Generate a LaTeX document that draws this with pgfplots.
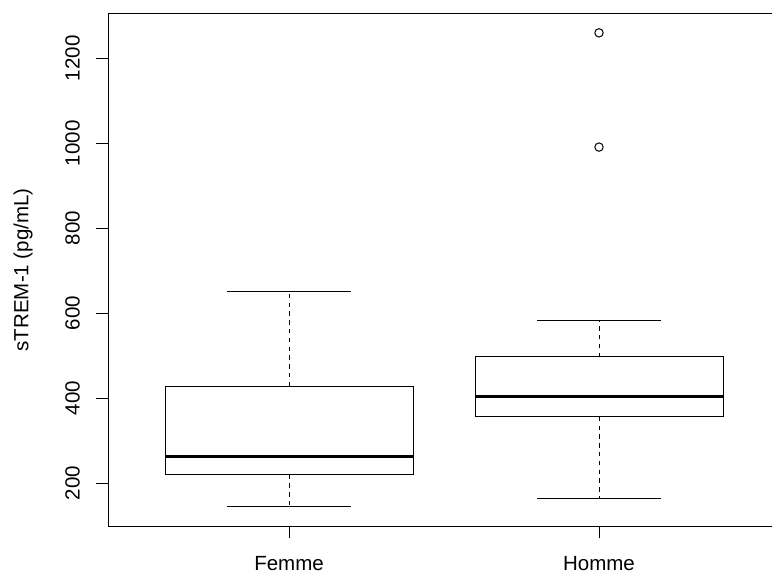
\documentclass[border=0pt]{standalone}
\usepackage{fontspec}
\setmainfont{Liberation Sans}
\usepackage{pgfplots}
\pgfplotsset{compat=1.18}
\begin{document}
\begin{tikzpicture}
\begin{axis}[
  scale only axis,
  width=335.25pt, height=256.55pt,
  xmin=0.417, xmax=2.58,
  ymin=98, ymax=1306,
  xtick={1,2}, xticklabels={Femme,Homme},
  ytick={200,400,600,800,1000,1200},
  tick align=outside,
  xtick pos=left, ytick pos=left,
  major tick length=6pt,
  every tick/.append style={black, line width=0.5pt},
  axis line style={line width=0.5pt},
  /pgf/number format/assume math mode=true,
  /pgf/number format/1000 sep={},
  xticklabel style={font=\fontsize{10.25}{12}\selectfont, anchor=north, inner sep=0pt, yshift=-9pt},
  yticklabel style={font=\fontsize{10.25}{12}\selectfont, rotate=90, anchor=south, inner sep=0pt, yshift=8pt},
  ylabel={sTREM-1 (pg/mL)},
  ylabel style={font=\fontsize{10.25}{12}\selectfont, at={(axis description cs:-0.127,0.5)}, anchor=center, inner sep=0pt},
]
% Femme
\addplot[black, line width=0.5pt] coordinates {(0.6,220) (1.4,220) (1.4,428) (0.6,428) (0.6,220)};
\addplot[black, line width=1.5pt] coordinates {(0.6,263) (1.4,263)};
\addplot[black, line width=0.5pt, dash pattern=on 2.2pt off 2.2pt] coordinates {(1,428) (1,651)};
\addplot[black, line width=0.5pt, dash pattern=on 2.2pt off 2.2pt] coordinates {(1,220) (1,144)};
\addplot[black, line width=0.5pt] coordinates {(0.8,651) (1.2,651)};
\addplot[black, line width=0.5pt] coordinates {(0.8,144) (1.2,144)};
% Homme
\addplot[black, line width=0.5pt] coordinates {(1.6,356) (2.4,356) (2.4,497) (1.6,497) (1.6,356)};
\addplot[black, line width=1.5pt] coordinates {(1.6,403) (2.4,403)};
\addplot[black, line width=0.5pt, dash pattern=on 2.2pt off 2.2pt] coordinates {(2,497) (2,582)};
\addplot[black, line width=0.5pt, dash pattern=on 2.2pt off 2.2pt] coordinates {(2,356) (2,164)};
\addplot[black, line width=0.5pt] coordinates {(1.8,582) (2.2,582)};
\addplot[black, line width=0.5pt] coordinates {(1.8,164) (2.2,164)};
% outliers
\addplot[black, only marks, mark=o, mark size=2.1pt, mark options={line width=0.5pt}]
  coordinates {(2,1260) (2,991)};
\end{axis}
\pgfresetboundingbox
\useasboundingbox (-54.15pt,-23.3pt) rectangle (331.85pt,263.2pt);
\end{tikzpicture}
\end{document}
